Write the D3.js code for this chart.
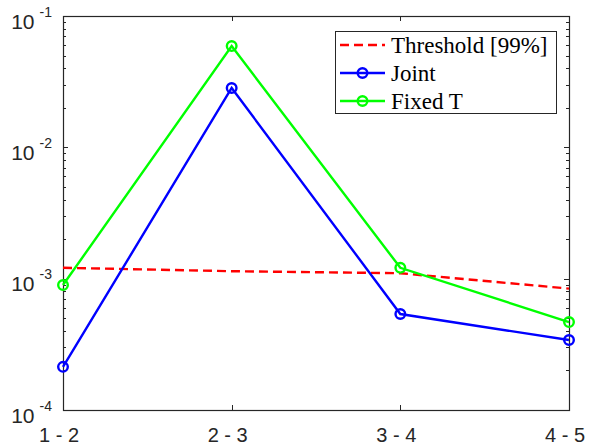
<!DOCTYPE html>
<html><head><meta charset="utf-8">
<script src="https://cdn.jsdelivr.net/npm/d3@7"></script>
<style>body{margin:0;background:#fff}svg{display:block}</style>
</head><body>
<svg id="c" width="589" height="446"></svg>
<script>
const categories = ["1 - 2", "2 - 3", "3 - 4", "4 - 5"];
const threshold = [1.21e-3, 1.14e-3, 1.10e-3, 8.4e-4];
const joint = [2.13e-4, 2.83e-2, 5.38e-4, 3.41e-4];
const fixedT = [8.95e-4, 5.9e-2, 1.21e-3, 4.67e-4];
const yTicks = [1e-4, 1e-3, 1e-2, 1e-1];
const yTickExp = ["-4", "-3", "-2", "-1"];
const legendLabels = ["Threshold [99%]", "Joint", "Fixed T"];

const svg = d3.select("#c");
const L = 63, R = 569, T = 16, B = 410;
const axisCol = "#262626";
const x = d3.scalePoint().domain(categories).range([L, R]);
const y = d3.scaleLog().domain([1e-4, 1e-1]).range([B, T]);

const minor = [];
for (let e = -4; e < -1; e++) for (let m = 2; m <= 9; m++) minor.push(m * Math.pow(10, e));

const g = svg.append("g");
[[L, 1], [R, -1]].forEach(([xx, dir]) => {
  g.selectAll(null).data(minor).enter().append("line")
    .attr("x1", xx).attr("x2", xx + dir * 3)
    .attr("y1", d => Math.round(y(d)) + 0.5).attr("y2", d => Math.round(y(d)) + 0.5)
    .attr("stroke", axisCol).attr("stroke-width", 1);
  g.selectAll(null).data(yTicks).enter().append("line")
    .attr("x1", xx).attr("x2", xx + dir * 5)
    .attr("y1", d => Math.round(y(d)) + 0.5).attr("y2", d => Math.round(y(d)) + 0.5)
    .attr("stroke", axisCol).attr("stroke-width", 1);
});
[[B, -1], [T, 1]].forEach(([yy, dir]) => {
  g.selectAll(null).data(categories).enter().append("line")
    .attr("x1", d => Math.round(x(d)) + 0.5).attr("x2", d => Math.round(x(d)) + 0.5)
    .attr("y1", yy).attr("y2", yy + dir * 5)
    .attr("stroke", axisCol).attr("stroke-width", 1);
});
g.append("rect").attr("x", L + 0.5).attr("y", T + 0.5).attr("width", R - L).attr("height", B - T)
  .attr("fill", "none").attr("stroke", axisCol).attr("stroke-width", 1.2);

yTicks.forEach((v, i) => {
  const t = svg.append("text").attr("x", 52).attr("y", y(v) + 12.5)
    .attr("text-anchor", "end").attr("fill", axisCol)
    .style("font-family", "'Liberation Sans', Arial, sans-serif");
  t.append("tspan").style("font-size", "21px").text("10");
  t.append("tspan").attr("dx", 5).attr("dy", -12).style("font-size", "14px").text(yTickExp[i]);
});
svg.selectAll(null).data(categories).enter().append("text")
  .attr("x", d => x(d) - 4).attr("y", 442).attr("text-anchor", "middle")
  .attr("fill", axisCol).style("font-family", "'Liberation Sans', Arial, sans-serif")
  .style("font-size", "20px").text(d => d);

const line = d3.line().x((d, i) => x(categories[i])).y(d => y(d));
svg.append("path").datum(threshold).attr("d", line).attr("fill", "none")
  .attr("stroke", "#ff0000").attr("stroke-width", 2.4).attr("stroke-dasharray", "9,5");

function series(data, col) {
  svg.append("path").datum(data).attr("d", line).attr("fill", "none")
    .attr("stroke", col).attr("stroke-width", 2.4);
  svg.selectAll(null).data(data).enter().append("circle")
    .attr("cx", (d, i) => x(categories[i])).attr("cy", d => y(d)).attr("r", 4.8)
    .attr("fill", "none").attr("stroke", col).attr("stroke-width", 2.4);
}
series(joint, "#0000ff");
series(fixedT, "#00ff00");

const lg = svg.append("g");
lg.append("rect").attr("x", 335.5).attr("y", 31.5).attr("width", 221).attr("height", 82)
  .attr("fill", "#fff").attr("stroke", axisCol).attr("stroke-width", 1);
const cols = ["#ff0000", "#0000ff", "#00ff00"];
legendLabels.forEach((lab, i) => {
  const yy = 45 + i * 28;
  lg.append("line").attr("x1", 340).attr("x2", 385).attr("y1", yy).attr("y2", yy)
    .attr("stroke", cols[i]).attr("stroke-width", 2.4)
    .attr("stroke-dasharray", i === 0 ? "9,5" : null);
  if (i > 0) lg.append("circle").attr("cx", 362.5).attr("cy", yy).attr("r", 4.8)
    .attr("fill", "none").attr("stroke", cols[i]).attr("stroke-width", 2.4);
  lg.append("text").attr("x", 391).attr("y", yy + 8).attr("fill", "#000")
    .style("font-family", "'Liberation Serif', 'Times New Roman', serif")
    .style("font-size", "23px").text(lab);
});
</script>
</body></html>
